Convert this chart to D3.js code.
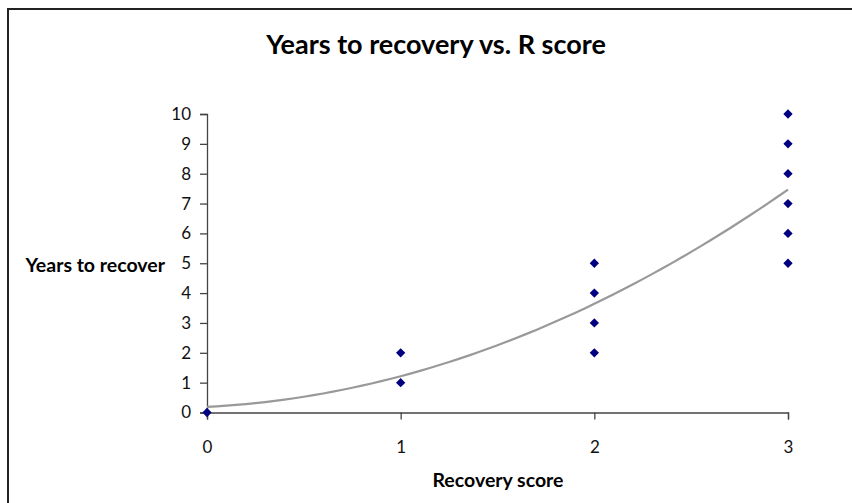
<!DOCTYPE html>
<html><head><meta charset="utf-8">
<script src="https://cdn.jsdelivr.net/npm/d3@7"></script>
<style>body{margin:0;background:#fff}svg{display:block}text{font-family:Lato,"Open Sans",sans-serif}</style>
</head><body>
<svg id="c" width="852" height="503"></svg>
<script>
const xValues = [0, 1, 1, 2, 2, 2, 2, 3, 3, 3, 3, 3, 3];
const yValues = [0, 1, 2, 2, 3, 4, 5, 5, 6, 7, 8, 9, 10];
const xTicks = [0, 1, 2, 3];
const yTicks = [0, 1, 2, 3, 4, 5, 6, 7, 8, 9, 10];
const title = "Years to recovery vs. R score";
const xTitle = "Recovery score";
const yTitle = "Years to recover";

const svg = d3.select("#c");
svg.append("rect").attr("x", 8).attr("y", 9).attr("width", 900).attr("height", 600)
  .attr("fill", "#fff").attr("stroke", "#222").attr("stroke-width", 2);

const x = d3.scaleLinear().domain([0, 3]).range([207, 788]);
const y = d3.scaleLinear().domain([0, 10]).range([412.5, 114]);

const gy = svg.append("g").attr("transform", "translate(207,0)")
  .call(d3.axisLeft(y).tickValues(yTicks).tickSize(7).tickPadding(9).tickFormat(d3.format("d")));
const gx = svg.append("g").attr("transform", "translate(0,412.5)")
  .call(d3.axisBottom(x).tickValues(xTicks).tickSize(7).tickPadding(21).tickFormat(d3.format("d")));
[gx, gy].forEach(g => {
  g.attr("font-size", 17).attr("font-family", "Lato,sans-serif");
  g.select(".domain").attr("stroke", "#444").attr("stroke-width", 1.3);
  g.selectAll(".tick line").attr("stroke", "#444").attr("stroke-width", 1.3);
  g.selectAll(".tick text").attr("fill", "#111");
});

function quadFit(xs, ys) {
  const S = k => d3.sum(xs, v => Math.pow(v, k));
  const T = k => d3.sum(xs.map((v, i) => Math.pow(v, k) * ys[i]));
  const A = [[S(0), S(1), S(2)], [S(1), S(2), S(3)], [S(2), S(3), S(4)]];
  const B = [T(0), T(1), T(2)];
  for (let i = 0; i < 3; i++) {
    for (let j = i + 1; j < 3; j++) {
      const f = A[j][i] / A[i][i];
      for (let k = i; k < 3; k++) A[j][k] -= f * A[i][k];
      B[j] -= f * B[i];
    }
  }
  const c = [0, 0, 0];
  for (let i = 2; i >= 0; i--) {
    let s = B[i];
    for (let k = i + 1; k < 3; k++) s -= A[i][k] * c[k];
    c[i] = s / A[i][i];
  }
  return c;
}
const coef = quadFit(xValues, yValues);
const curve = d3.range(0, 3.0001, 0.05).map(t => [t, coef[0] + coef[1] * t + coef[2] * t * t]);
svg.append("path").datum(curve)
  .attr("d", d3.line().x(d => x(d[0])).y(d => y(d[1])))
  .attr("fill", "none").attr("stroke", "#999").attr("stroke-width", 2.2);

svg.append("g").selectAll("path").data(xValues.map((v, i) => [v, yValues[i]])).join("path")
  .attr("d", d3.symbol(d3.symbolDiamond2, 55))
  .attr("transform", d => `translate(${x(d[0])},${y(d[1])})`)
  .attr("fill", "#000080");

svg.append("text").attr("x", 436).attr("y", 54).attr("text-anchor", "middle")
  .style("font-size", "27px").style("font-weight", "bold").attr("fill", "#000").text(title);
svg.append("text").attr("x", 498).attr("y", 487).attr("text-anchor", "middle")
  .style("font-size", "19.5px").style("font-weight", "bold").attr("fill", "#000").text(xTitle);
svg.append("text").attr("x", 165).attr("y", 272).attr("text-anchor", "end")
  .style("font-size", "19.5px").style("font-weight", "bold").attr("fill", "#000").text(yTitle);
</script>
</body></html>
